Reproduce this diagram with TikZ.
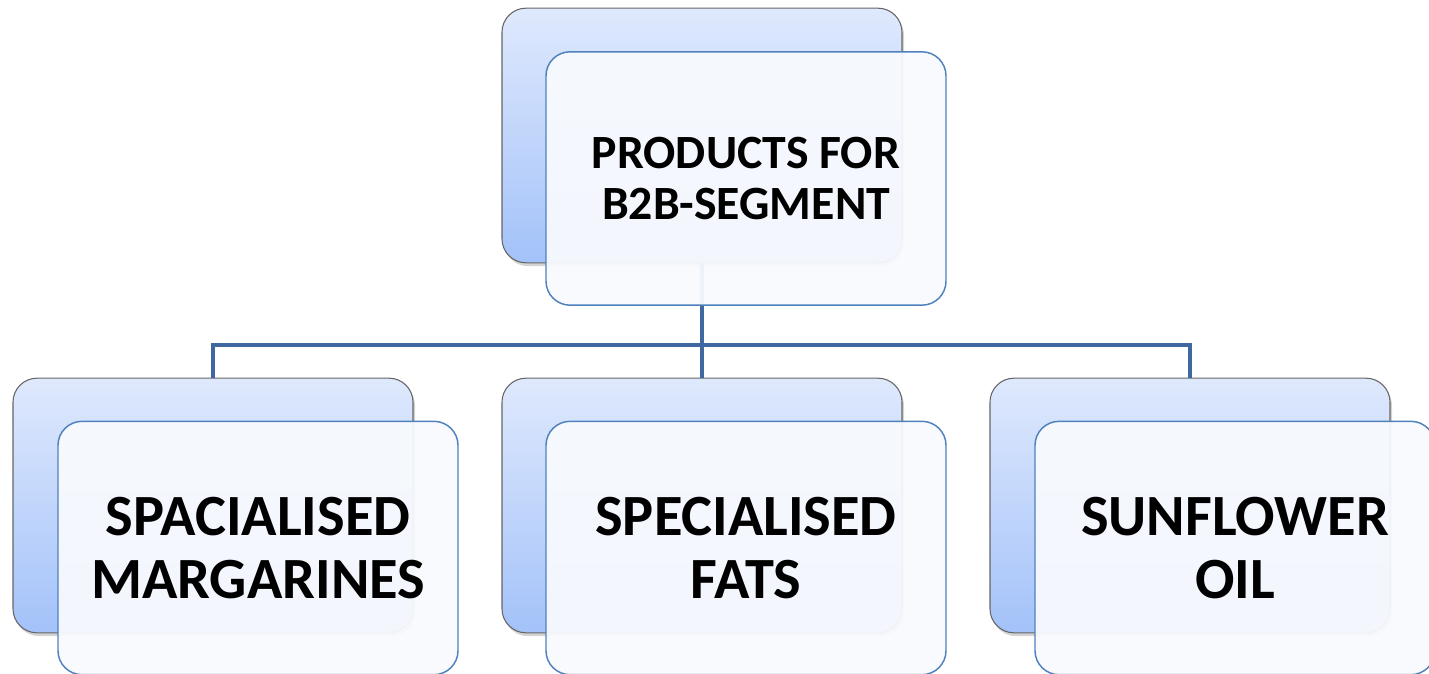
\documentclass[tikz,border=0pt]{standalone}
\usepackage{fontspec}
\setmainfont{Carlito}
\usetikzlibrary{shadows}
\definecolor{backtop}{HTML}{DFE9FD}
\definecolor{backbot}{HTML}{A3C2F9}
\definecolor{frontfill}{HTML}{F8FAFE}
\definecolor{frontline}{HTML}{4F81BD}
\definecolor{linkcol}{HTML}{3F68A0}
\tikzset{
  backbox/.style={rectangle, rounded corners=18pt, draw=gray!80!black, line width=0.8pt,
    top color=backtop, bottom color=backbot, minimum width=300pt, minimum height=191pt,
    drop shadow={shadow xshift=1.5pt, shadow yshift=-2.5pt, opacity=0.35}},
  frontbox/.style={rectangle, rounded corners=18pt, draw=frontline, line width=1.1pt,
    fill=frontfill, fill opacity=0.94, text opacity=1, minimum width=300pt, minimum height=190pt,
    align=center, font=\bfseries},
  link/.style={draw=linkcol, line width=3pt}
}
\begin{document}
\begin{tikzpicture}[x=0.75pt,y=-0.75pt]
  \useasboundingbox (0,0) rectangle (1429,674);
  % back boxes
  \node[backbox] (top_b) at (702,135.5) {};
  \node[backbox] (marg_b) at (213,505.5) {};
  \node[backbox] (fats_b) at (702,505.5) {};
  \node[backbox] (oil_b) at (1190,505.5) {};
  % connectors
  \coordinate (split) at (702,345);
  \draw[link] (top_b.south) -- (split);
  \foreach \child in {marg_b,fats_b,oil_b}
    \draw[link] (split) -| (\child.north);
  % front boxes
  \node[frontbox, font=\bfseries\fontsize{35.8}{38.5}\selectfont] (top_f) at (746,178.5)
    {PRODUCTS FOR\\B2B-SEGMENT};
  \node[frontbox, font=\bfseries\fontsize{43.8}{47.5}\selectfont] (marg_f) at (258,548)
    {SPACIALISED\\MARGARINES};
  \node[frontbox, font=\bfseries\fontsize{43.8}{47.5}\selectfont] (fats_f) at (746,548)
    {SPECIALISED\\FATS};
  \node[frontbox, font=\bfseries\fontsize{43.8}{47.5}\selectfont] (oil_f) at (1235,548)
    {SUNFLOWER\\OIL};
\end{tikzpicture}
\end{document}
